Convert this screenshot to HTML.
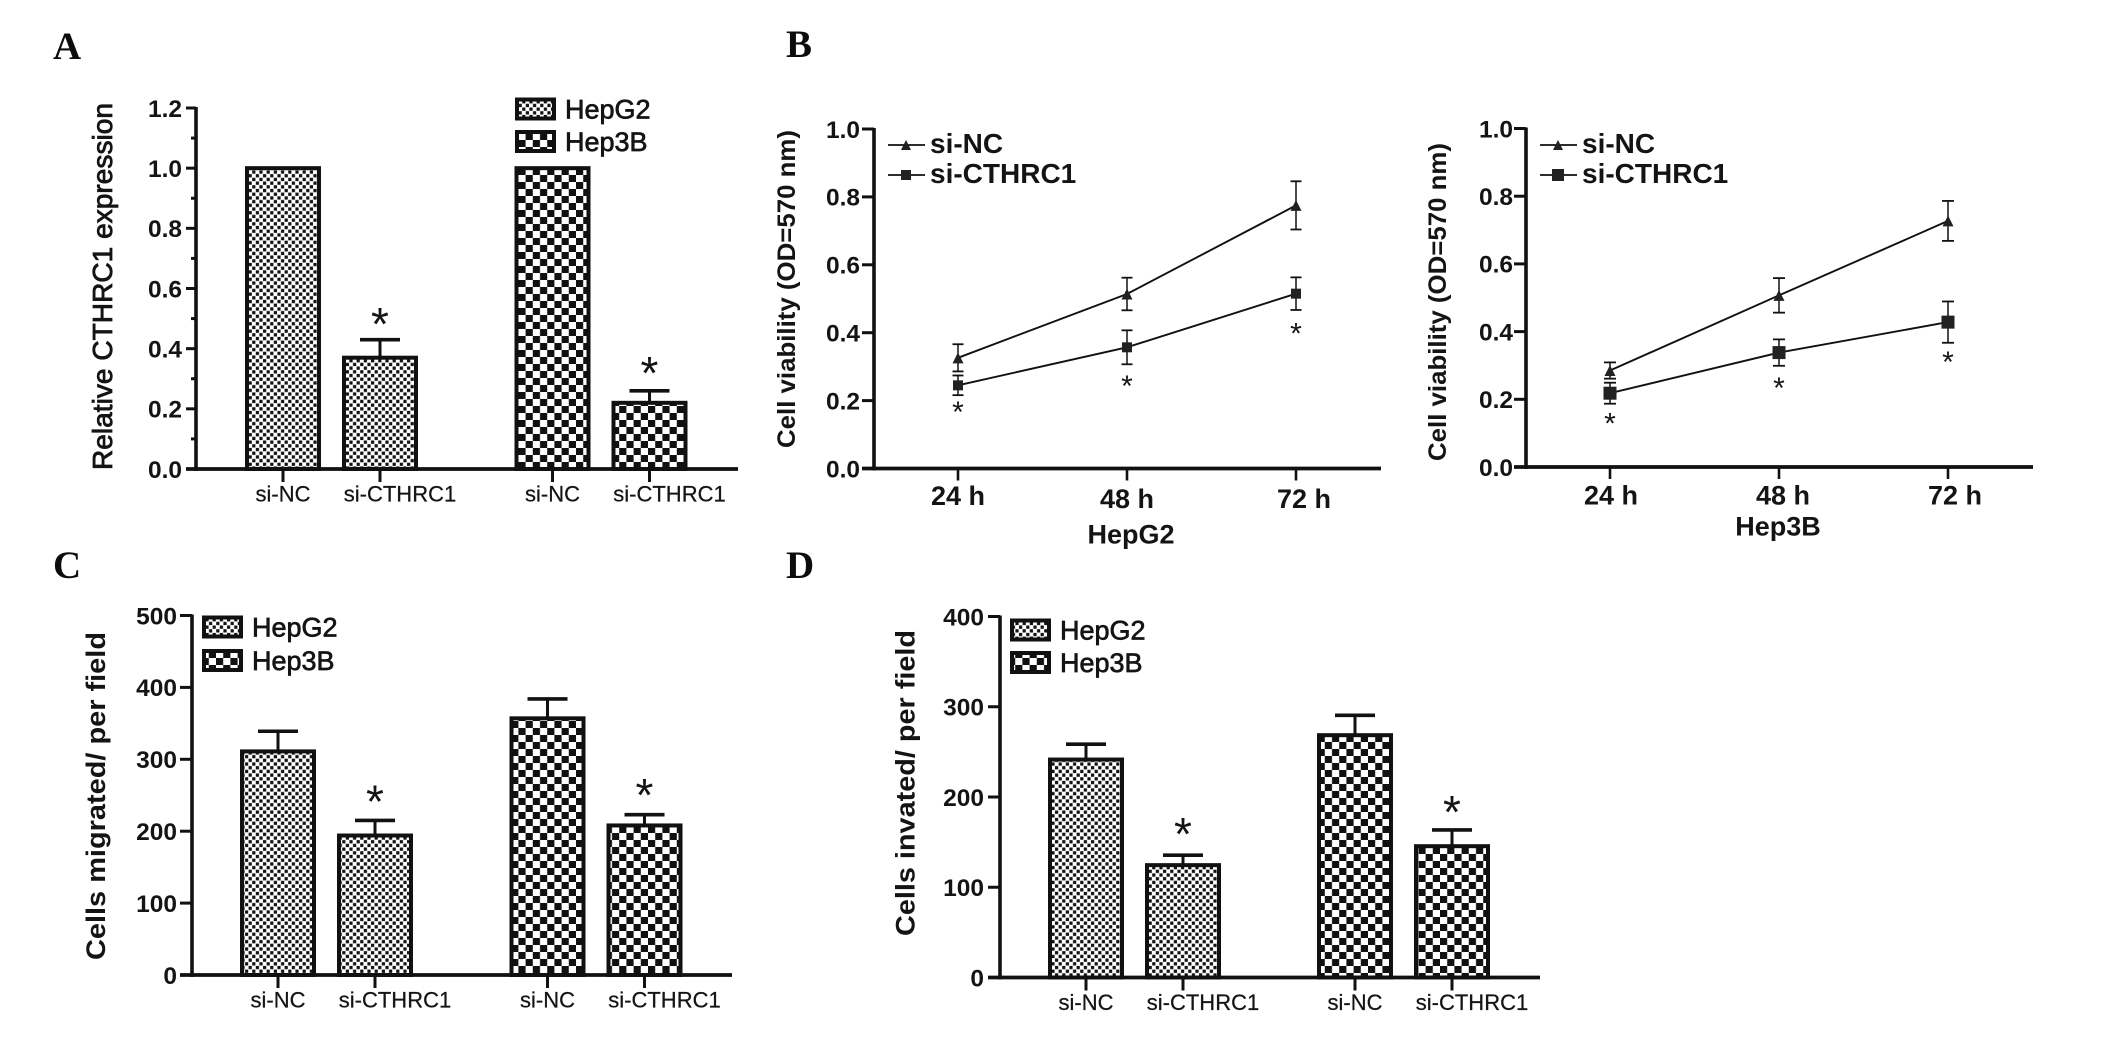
<!DOCTYPE html>
<html lang="en">
<head>
<meta charset="utf-8">
<title>CTHRC1 knockdown figure</title>
<style>
html,body{margin:0;padding:0;background:#fff;}
svg{display:block;}
text{font-family:"Liberation Sans",sans-serif;fill:#141414;}
.letter{font-family:"Liberation Serif",serif;font-weight:bold;font-size:39px;fill:#0c0c0c;}
</style>
</head>
<body>
<svg id="figure" xmlns="http://www.w3.org/2000/svg" width="2126" height="1046" viewBox="0 0 2126 1046">
<defs>
<pattern id="fine" patternUnits="userSpaceOnUse" width="7.2" height="7.4">
<rect width="7.2" height="7.4" fill="#fff"/>
<rect x="0.2" y="0.2" width="3.2" height="3.3" fill="#111"/>
<rect x="3.8" y="3.9" width="3.2" height="3.3" fill="#111"/>
</pattern>
<pattern id="coarse" patternUnits="userSpaceOnUse" width="14.4" height="14">
<rect width="14.4" height="14" fill="#fff"/>
<rect x="0" y="0" width="7.2" height="7" fill="#111"/>
<rect x="7.2" y="7" width="7.2" height="7" fill="#111"/>
</pattern>
</defs>
<rect width="2126" height="1046" fill="#fff"/>
<text class="letter" x="53" y="59">A</text>
<text class="letter" x="786" y="57">B</text>
<text class="letter" x="53" y="578">C</text>
<text class="letter" x="786" y="578">D</text>
</svg>
<script>
// Shared categories and labels
const barCategories = ['si-NC', 'si-CTHRC1', 'si-NC', 'si-CTHRC1'];
const barLegend = ['HepG2', 'Hep3B'];
const timeCategories = ['24 h', '48 h', '72 h'];
const lineSeriesNames = ['si-NC', 'si-CTHRC1'];

// Panel A
const aTicks = ['0.0', '0.2', '0.4', '0.6', '0.8', '1.0', '1.2'];
const aValues = [1.0, 0.37, 1.0, 0.22];
const aErrors = [0, 0.06, 0, 0.04];
const aStars = [null, 0.505, null, 0.342];

// Panel C
const cTicks = ['0', '100', '200', '300', '400', '500'];
const cValues = [311, 194, 357, 208];
const cErrors = [28, 21, 27, 15];
const cStars = [null, 251, null, 260];

// Panel D
const dTicks = ['0', '100', '200', '300', '400'];
const dValues = [241.5, 124.5, 268.5, 145.5];
const dErrors = [17, 11, 22, 18];
const dStars = [null, 167, null, 191];

// Panel B, HepG2
const bTicks = ['0.0', '0.2', '0.4', '0.6', '0.8', '1.0'];
const b1Nc = [0.326, 0.514, 0.775];
const b1NcErr = [0.04, 0.048, 0.071];
const b1Si = [0.245, 0.357, 0.515];
const b1SiErr = [0.029, 0.05, 0.048];
const b1Stars = [0.181, 0.257, 0.413];

// Panel B, Hep3B
const b2Nc = [0.285, 0.507, 0.727];
const b2NcErr = [0.024, 0.051, 0.059];
const b2Si = [0.218, 0.338, 0.428];
const b2SiErr = [0.031, 0.039, 0.061];
const b2Stars = [0.143, 0.248, 0.325];

const svg = document.getElementById('figure');
const NS = 'http://www.w3.org/2000/svg';

function mk(tag, attrs, name) {
  const el = document.createElementNS(NS, tag);
  for (const k in attrs) el.setAttribute(k, attrs[k]);
  
  
  svg.appendChild(el);
  return el;
}
function line(x1, y1, x2, y2, w, name) {
  return mk('line', {x1, y1, x2, y2, stroke: '#111', 'stroke-width': w}, name);
}
function label(str, x, cy, size, opts, name) {
  const o = opts || {};
  const a = {x, y: cy + size * 0.358, 'font-size': size, 'text-anchor': o.anchor || 'middle'};
  if (o.bold) a['font-weight'] = 'bold';
  if (o.stroke) { a.stroke = '#141414'; a['stroke-width'] = o.stroke; }
  const t = mk('text', a, name);
  t.textContent = str;
  return t;
}
function vTitle(str, cx, y1, y2, size, bold, stroke, name) {
  const mid = (y1 + y2) / 2;
  const a = {
    x: 0, y: 0, 'font-size': size, 'text-anchor': 'middle',
    textLength: y2 - y1, lengthAdjust: 'spacingAndGlyphs',
    transform: 'translate(' + (cx + size * 0.358) + ' ' + mid + ') rotate(-90)'
  };
  if (bold) a['font-weight'] = 'bold';
  if (stroke) { a.stroke = '#141414'; a['stroke-width'] = stroke; }
  const t = mk('text', a, name);
  t.textContent = str;
}
function star(x, cy, size, name) {
  const t = mk('text', {x, y: cy + size * 0.5, 'font-size': size, 'text-anchor': 'middle'}, name);
  t.textContent = '*';
}
function yAxis(p, ticks, minor) {
  const y = v => p.y0 - (v / p.yMax) * (p.y0 - p.yTop);
  line(p.ax, p.yTop - 1, p.ax, p.y0 + 2, 3.6, p.id + '-y-axis');
  line(p.ax - p.tickLen, p.y0, p.xEnd, p.y0, 3.8, p.id + '-x-axis');
  ticks.forEach(function (tl) {
    const v = Number(tl);
    const py = y(v);
    line(p.ax - p.tickLen, py, p.ax, py, 3, p.id + '-y-tick');
    label(tl, p.ax - p.tickLen - p.labGap, py, p.tickFont, {anchor: 'end', bold: true}, p.id + '-y-tick-label');
  });
  if (minor) {
    for (let i = 0; i + 1 < ticks.length; i++) {
      const py = y((Number(ticks[i]) + Number(ticks[i + 1])) / 2);
      line(p.ax - 5, py, p.ax, py, 3, p.id + '-y-minor-tick');
    }
  }
  return y;
}
function barPanel(p, ticks, values, errors, stars, minor) {
  const y = yAxis(p, ticks, minor);
  const barX = i => p.first + i * p.step + (i >= 2 ? p.gap : 0);
  const fills = ['url(#fine)', 'url(#fine)', 'url(#coarse)', 'url(#coarse)'];
  values.forEach(function (v, i) {
    const cx = barX(i);
    const top = y(v);
    if (errors[i] > 0) {
      const et = y(v + errors[i]);
      line(cx, top, cx, et, 3, p.id + '-error-stem');
      line(cx - 20, et, cx + 20, et, 3.6, p.id + '-error-cap');
    }
    mk('rect', {x: cx - 36, y: top, width: 72, height: p.y0 - top, fill: fills[i], stroke: '#111', 'stroke-width': 4}, p.id + '-bar-' + i);
    if (stars[i] !== null) star(cx, y(stars[i]), 46, p.id + '-significance-star');
    line(cx, p.y0, cx, p.y0 + 13, 3, p.id + '-x-tick');
    const lx = cx + (i % 2 ? 20 : 0);
    label(barCategories[i], lx, p.y0 + 24.5, 22, {stroke: 0.25}, p.id + '-x-label');
  });
  barLegend.forEach(function (n, i) {
    const ly = p.legY[i];
    mk('rect', {x: p.legX + 2, y: ly - 9.5, width: 37, height: 19, fill: i ? 'url(#coarse)' : 'url(#fine)', stroke: '#111', 'stroke-width': 4}, p.id + '-legend-swatch');
    label(n, p.legX + 50, ly, 27, {anchor: 'start', stroke: 0.7}, p.id + '-legend-label');
  });
}
function marker(kind, x, y, s, name) {
  if (kind === 0) {
    const h = s * 0.5;
    mk('polygon', {points: (x - h) + ',' + (y + h) + ' ' + (x + h) + ',' + (y + h) + ' ' + x + ',' + (y - h), fill: '#222'}, name);
  } else {
    mk('rect', {x: x - s / 2, y: y - s / 2, width: s, height: s, fill: '#222'}, name);
  }
}
function linePanel(p, ticks, series, errs, stars) {
  const y = yAxis(p, ticks, false);
  const xs = i => p.first + i * p.step;
  series.forEach(function (vals, k) {
    const pts = vals.map((v, i) => xs(i) + ',' + y(v)).join(' ');
    mk('polyline', {points: pts, fill: 'none', stroke: '#111', 'stroke-width': 1.9}, p.id + '-line-' + lineSeriesNames[k]);
    vals.forEach(function (v, i) {
      const x = xs(i), up = y(v + errs[k][i]), dn = y(v - errs[k][i]);
      line(x, up, x, dn, 1.5, p.id + '-error-stem');
      line(x - p.cap, up, x + p.cap, up, 1.8, p.id + '-error-cap');
      line(x - p.cap, dn, x + p.cap, dn, 1.8, p.id + '-error-cap');
      marker(k, x, y(v), k === 0 ? p.tri : p.sq, p.id + '-marker-' + lineSeriesNames[k]);
    });
  });
  stars.forEach(function (v, i) { star(xs(i), y(v), 30, p.id + '-significance-star'); });
  timeCategories.forEach(function (c, i) {
    line(xs(i), p.y0, xs(i), p.y0 + 12, 2.6, p.id + '-x-tick');
    label(c, xs(i) + p.labShift(i), p.y0 + p.catY(i), 27, {bold: true}, p.id + '-x-label');
  });
  lineSeriesNames.forEach(function (n, k) {
    const ly = p.legY[k];
    line(p.legX, ly, p.legX + 37, ly, 1.8, p.id + '-legend-line');
    marker(k, p.legX + 18, ly, k === 0 ? 10 : p.legSq, p.id + '-legend-marker');
    label(n, p.legX + 42, ly - 2, 28, {anchor: 'start', bold: true}, p.id + '-legend-label');
  });
}

const panelA = {id: 'panel-a', ax: 196, y0: 469, yTop: 108, yMax: 1.2, xEnd: 738, tickLen: 10, labGap: 4, tickFont: 24.5,
  first: 283, step: 97, gap: 75.5, legX: 515, legY: [109, 141.5]};
const panelC = {id: 'panel-c', ax: 192, y0: 975, yTop: 615.5, yMax: 500, xEnd: 732, tickLen: 12, labGap: 3, tickFont: 24.5,
  first: 278, step: 97, gap: 75.5, legX: 202, legY: [627, 660.5]};
const panelD = {id: 'panel-d', ax: 1000, y0: 977.5, yTop: 616.5, yMax: 400, xEnd: 1540, tickLen: 12, labGap: 4, tickFont: 24.5,
  first: 1086, step: 97, gap: 75, legX: 1010, legY: [630, 662.5]};
const panelB1 = {id: 'panel-b-hepg2', ax: 874, y0: 468.5, yTop: 129, yMax: 1, xEnd: 1381, tickLen: 12, labGap: 2, tickFont: 24.5,
  first: 958, step: 169, cap: 5.5, tri: 11, sq: 10, legX: 888, legY: [145, 175], legSq: 10,
  catY: i => (i === 0 ? 27 : 30), labShift: i => (i === 2 ? 8 : 0)};
const panelB2 = {id: 'panel-b-hep3b', ax: 1526, y0: 467, yTop: 128.5, yMax: 1, xEnd: 2033, tickLen: 12, labGap: 1, tickFont: 24.5,
  first: 1610, step: 169, cap: 6, tri: 11, sq: 13, legX: 1540, legY: [145, 175], legSq: 12,
  catY: i => 28, labShift: i => 1 + 3 * i};

barPanel(panelA, aTicks, aValues, aErrors, aStars, true);
vTitle('Relative CTHRC1 expression', 102, 103, 470, 27.5, false, 0.8, 'panel-a-y-title');

linePanel(panelB1, bTicks, [b1Nc, b1Si], [b1NcErr, b1SiErr], b1Stars);
vTitle('Cell viability (OD=570 nm)', 786, 130, 448, 25, true, 0, 'panel-b-hepg2-y-title');
label('HepG2', 1131, 534, 27, {bold: true}, 'panel-b-hepg2-x-title');

linePanel(panelB2, bTicks, [b2Nc, b2Si], [b2NcErr, b2SiErr], b2Stars);
vTitle('Cell viability (OD=570 nm)', 1437, 143, 461, 25, true, 0, 'panel-b-hep3b-y-title');
label('Hep3B', 1778, 526, 27, {bold: true}, 'panel-b-hep3b-x-title');

barPanel(panelC, cTicks, cValues, cErrors, cStars, false);
vTitle('Cells migrated/ per field', 95.5, 632, 960, 27, true, 0, 'panel-c-y-title');

barPanel(panelD, dTicks, dValues, dErrors, dStars, false);
vTitle('Cells invated/ per field', 905, 630, 936, 27, true, 0, 'panel-d-y-title');
</script>
</body>
</html>
